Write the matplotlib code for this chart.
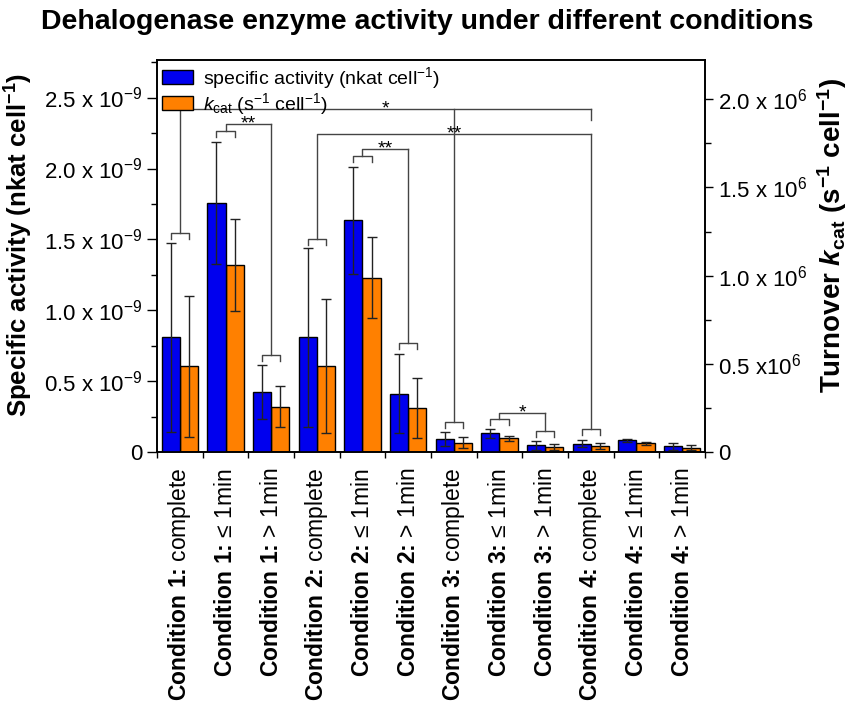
import numpy as np
import matplotlib
matplotlib.use('Agg')
import matplotlib.pyplot as plt

plt.rcParams['font.family'] = ['Liberation Sans', 'DejaVu Sans']
plt.rcParams['mathtext.fontset'] = 'custom'
plt.rcParams['mathtext.rm'] = 'Liberation Sans'
plt.rcParams['mathtext.it'] = 'Liberation Sans:italic'
plt.rcParams['mathtext.bf'] = 'Liberation Sans:bold'
plt.rcParams['mathtext.bfit'] = 'Liberation Sans:italic:bold'
plt.rcParams['mathtext.sf'] = 'Liberation Sans'

# data (specific activity in 1e-9 nkat/cell, kcat in 1e6 1/s/cell)
conditions = ['1', '1', '1', '2', '2', '2', '3', '3', '3', '4', '4', '4']
states = ['complete', '≤ 1min', '> 1min'] * 4
spec_act = [0.81, 1.76, 0.427, 0.81, 1.634, 0.415, 0.093, 0.134, 0.05, 0.063, 0.085, 0.044]
spec_err = [0.665, 0.43, 0.19, 0.63, 0.38, 0.28, 0.05, 0.03, 0.03, 0.027, 0.013, 0.024]
kcat = [0.488, 1.062, 0.258, 0.488, 0.989, 0.254, 0.056, 0.081, 0.032, 0.038, 0.051, 0.027]
kcat_err = [0.40, 0.26, 0.116, 0.38, 0.23, 0.17, 0.03, 0.015, 0.016, 0.017, 0.01, 0.013]

left_ticks = [0, 0.5, 1.0, 1.5, 2.0, 2.5]
left_labels = ['0', '0.5 x 10$^{-9}$', '1.0 x 10$^{-9}$', '1.5 x 10$^{-9}$',
               '2.0 x 10$^{-9}$', '2.5 x 10$^{-9}$']
right_ticks = [0, 0.5, 1.0, 1.5, 2.0]
right_labels = ['0', '0.5 x10$^{6}$', '1.0 x 10$^{6}$', '1.5 x 10$^{6}$', '2.0 x 10$^{6}$']

# significance brackets (left axis units)
group_br = {0: 1.548, 1: 2.264, 2: 0.689, 3: 1.504, 4: 2.088, 5: 0.769,
            6: 0.217, 7: 0.234, 8: 0.154, 9: 0.165}
links = [(1, 2, 2.311, '**', True), (4, 5, 2.135, '**', True), (7, 8, 0.276, '*', True),
         (3, 9, 2.241, '**', True), (0, 9, 2.417, '*', False)]
extra_stems = [(6, 2.417)]

blue = '#0000ee'
orange = '#ff8000'
lc = '#444444'

fig = plt.figure(figsize=(8.51, 7.18), dpi=100)
ax = fig.add_axes([0.1845, 0.3698, 0.6439, 0.5466])
ax2 = ax.twinx()
ax.set_zorder(ax2.get_zorder() + 1)
ax.patch.set_visible(False)

x = np.arange(len(spec_act))
ekw = dict(elinewidth=1, capthick=1, ecolor='#222222')
b1 = ax.bar(x - 0.2, spec_act, 0.4, color=blue, edgecolor='black', linewidth=1,
            yerr=spec_err, capsize=3.5, error_kw=ekw)
b2 = ax2.bar(x + 0.2, kcat, 0.4, color=orange, edgecolor='black', linewidth=1,
             yerr=kcat_err, capsize=3.5, error_kw=ekw)

ax.set_xlim(-0.5, 11.5)
ax.set_ylim(0, 2.764)
ax2.set_ylim(0, 2.221)

labels = [r'$\mathbf{Condition\ %s\hspace{-0.2}:\hspace{-0.2}}$ %s' % (c, s)
          for c, s in zip(conditions, states)]
ax.set_xticks(x, labels, rotation=90, fontsize=16.5)
ax.set_xticks(np.arange(-0.5, 12, 1), minor=True)
ax.tick_params(axis='x', which='major', length=0, pad=11)
ax.tick_params(axis='x', which='minor', length=4, width=1, direction='out')

ax.set_yticks(left_ticks, left_labels, fontsize=16)
ax.set_yticks(np.arange(0.25, 2.8, 0.5), minor=True)
ax.tick_params(axis='y', which='major', length=7, width=1, direction='out')
ax.tick_params(axis='y', which='minor', length=4, width=1, direction='out')

ax2.set_yticks(right_ticks, right_labels, fontsize=16)
ax2.set_yticks(np.arange(0.25, 2.2, 0.5), minor=True)
ax2.tick_params(axis='y', which='major', length=6, width=1, direction='out')
ax2.tick_params(axis='y', which='minor', length=4, width=1, direction='out')

for a in (ax, ax2):
    for s in a.spines.values():
        s.set_linewidth(1.2)

# brackets
leg = 0.042
for g, h in group_br.items():
    ax.plot([g - 0.2, g - 0.2, g + 0.2, g + 0.2], [h - leg, h, h, h - leg],
            color=lc, lw=1)
for a, b, h, lab, full in links:
    ax.plot([a, a, b], [group_br[a], h, h], color=lc, lw=1)
    bottom = group_br[b] if full else h - 0.075
    ax.plot([b, b], [h, bottom], color=lc, lw=1)
    ax.annotate(lab, xy=((a + b) / 2, h), xytext=(0, -3), textcoords='offset points',
                ha='center', va='baseline', fontsize=14)
for g, h in extra_stems:
    ax.plot([g, g], [group_br[g], h], color=lc, lw=1)

ax.legend([b1, b2], ['specific activity (nkat cell$^{-1}$)',
                     r'$\mathit{k}_{\mathrm{cat}}$ (s$^{-1}$ cell$^{-1}$)'],
          loc='upper left', frameon=False, fontsize=14, handlelength=1.6,
          handleheight=0.77, handletextpad=0.5, labelspacing=0.0,
          borderpad=0.1, borderaxespad=0.15)

fig.text(0.502, 0.969, 'Dehalogenase enzyme activity under different conditions',
         ha='center', va='center', fontsize=20.5, fontweight='bold')
fig.text(0.022, 0.6595, r'Specific activity (nkat cell$^{\mathbf{-1}}$)',
         rotation=90, ha='center', va='center', fontsize=18.5, fontweight='bold')
fig.text(0.978, 0.672, r'Turnover $\mathbfit{k}_{\mathbf{cat}}$ (s$^{\mathbf{-1}}$ cell$^{\mathbf{-1}}$)',
         rotation=90, ha='center', va='center', fontsize=20, fontweight='bold')

fig.savefig('out.png', dpi=100)
